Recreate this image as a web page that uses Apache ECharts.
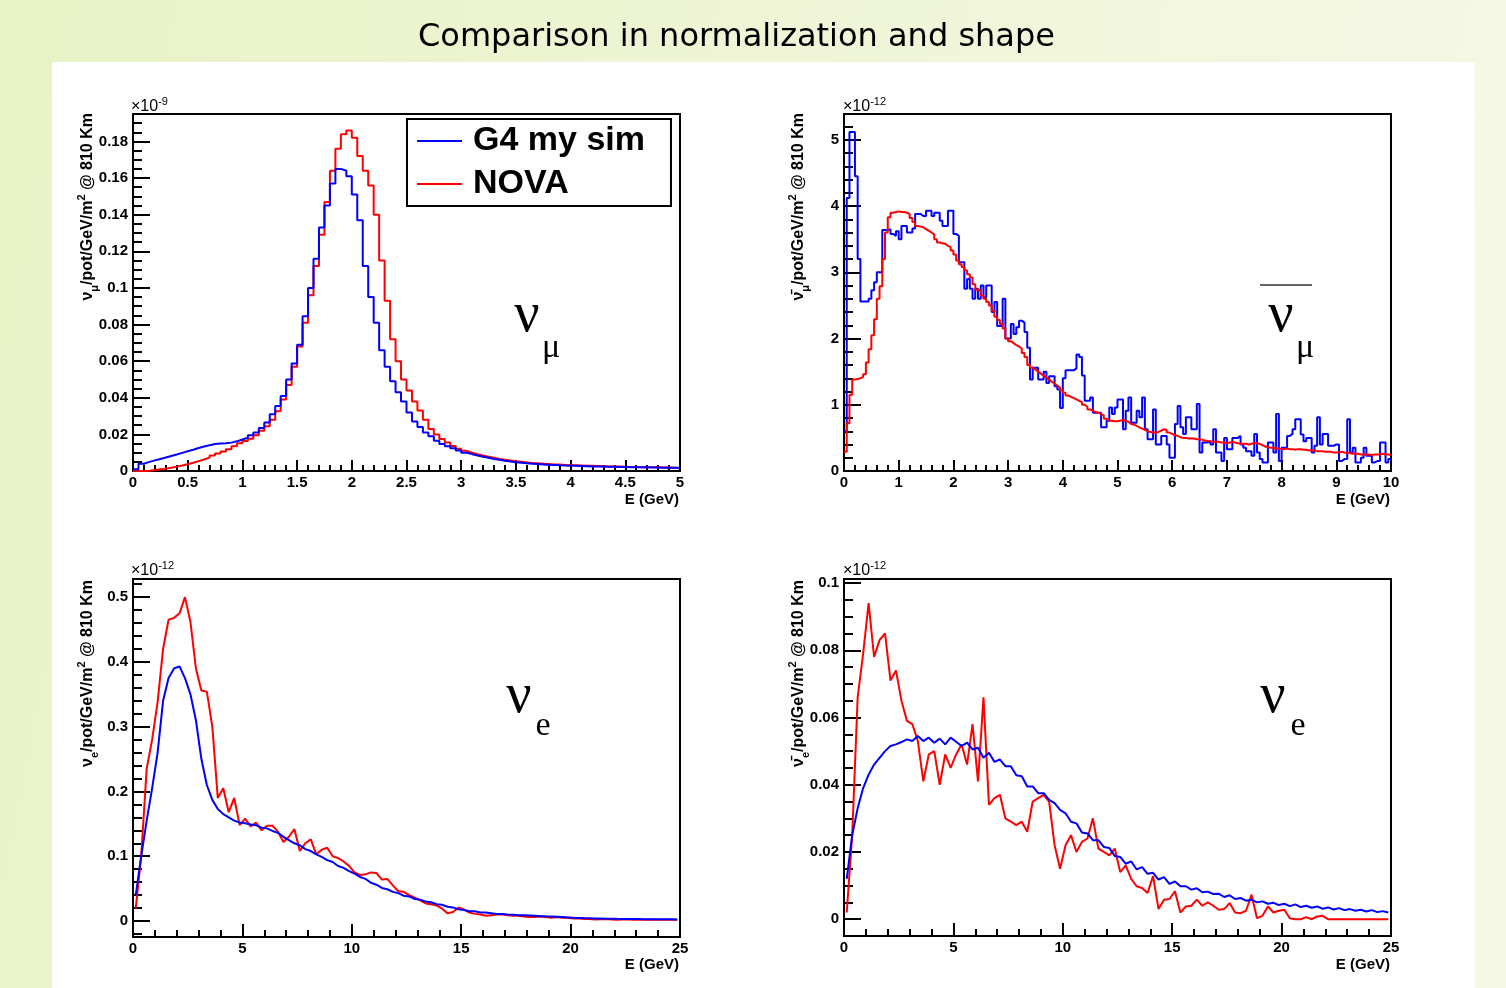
<!DOCTYPE html>
<html>
<head>
<meta charset="utf-8">
<script src="https://cdn.jsdelivr.net/npm/echarts@6.0.0/dist/echarts.min.js"></script>
<style>
  html, body { margin: 0; padding: 0; background: #fff; }
  #main { width: 1506px; height: 988px; }
</style>
</head>
<body>
<div id="main"></div>
<script>
// ---------- data (flux in units of 1e-9 / 1e-12 as on the axes) ----------
// top left: nu_mu, 0-5 GeV, bins of 0.05 GeV
var tlBinWidth = 0.05;
var tlBlue = [
  0.001, 0.004, 0.005, 0.0058, 0.0066, 0.0074, 0.0082, 0.009, 0.0099, 0.0108,
  0.0116, 0.0126, 0.0134, 0.0141, 0.0147, 0.015, 0.0152, 0.0155, 0.0162, 0.0172,
  0.0182, 0.0195, 0.021, 0.0235, 0.0265, 0.031, 0.0355, 0.041, 0.05, 0.0587,
  0.069, 0.0845, 0.1, 0.116, 0.133, 0.145, 0.157, 0.165, 0.164, 0.161,
  0.151, 0.137, 0.112, 0.095, 0.081, 0.066, 0.057, 0.049, 0.043, 0.038,
  0.032, 0.027, 0.024, 0.021, 0.019, 0.0165, 0.0148, 0.0135, 0.0124, 0.0112,
  0.01, 0.0092, 0.0085, 0.0078, 0.0072, 0.0066, 0.0061, 0.0056, 0.0052, 0.0048,
  0.0045, 0.0042, 0.004, 0.0038, 0.0036, 0.0034, 0.0033, 0.0031, 0.003, 0.0029,
  0.0028, 0.0027, 0.0026, 0.0025, 0.0025, 0.0024, 0.0023, 0.0023, 0.0022, 0.0022,
  0.0021, 0.0021, 0.002, 0.002, 0.0019, 0.0019, 0.0018, 0.0018, 0.0018, 0.0017
];
var tlRed = [
  0, 0, 0.0002, 0.0005, 0.0009, 0.0013, 0.0018, 0.0024, 0.003, 0.0037,
  0.0045, 0.0054, 0.0063, 0.0073, 0.0084, 0.0095, 0.0107, 0.0119, 0.0135, 0.0152,
  0.0164, 0.0176, 0.0195, 0.022, 0.0245, 0.028, 0.0327, 0.039, 0.047, 0.057,
  0.068, 0.081, 0.096, 0.112, 0.129, 0.147, 0.164, 0.176, 0.184, 0.186,
  0.182, 0.172, 0.164, 0.156, 0.14, 0.115, 0.093, 0.072, 0.06, 0.05,
  0.044, 0.038, 0.033, 0.028, 0.023, 0.02, 0.0175, 0.0155, 0.0137, 0.0122,
  0.011, 0.01, 0.0092, 0.0085, 0.0078, 0.0072, 0.0066, 0.0061, 0.0057, 0.0053,
  0.005, 0.0047, 0.0044, 0.0042, 0.004, 0.0038, 0.0036, 0.0035, 0.0033, 0.0032,
  0.0031, 0.003, 0.0029, 0.0028, 0.0027, 0.0026, 0.0025, 0.0024, 0.0024, 0.0023,
  0.0022, 0.0022, 0.0021, 0.0021, 0.002, 0.002, 0.0019, 0.0019, 0.0018, 0.0018
];

// top right: anti nu_mu, 0-10 GeV, bins of 0.05 GeV (one row = 1 GeV)
var trBinWidth = 0.05;
var trBlue = [
  0.6, 4.12, 5.12, 5.12, 4.45, 3.2, 2.56, 2.56, 2.56, 2.6, 2.73, 2.85, 3.0, 3.0, 3.64, 3.64, 3.65, 3.58, 3.55, 3.62,
  3.5, 3.7, 3.7, 3.6, 3.6, 3.66, 3.88, 3.88, 3.85, 3.85, 3.93, 3.93, 3.85, 3.9, 3.9, 3.78, 3.7, 3.7, 3.93, 3.93,
  3.58, 3.55, 3.15, 3.15, 2.75, 2.9, 2.75, 2.6, 2.75, 2.6, 2.8, 2.62, 2.8, 2.8, 2.4, 2.55, 2.19, 2.19, 2.6, 2.0,
  2.0, 2.22, 2.07, 2.17, 2.27, 2.24, 2.1, 1.86, 1.38, 1.56, 1.56, 1.38, 1.38, 1.5, 1.33, 1.43, 1.43, 1.28, 1.23, 0.95,
  1.4, 1.52, 1.52, 1.52, 1.55, 1.76, 1.72, 1.44, 1.06, 1.06, 1.11, 0.88, 0.88, 0.88, 0.66, 0.66, 0.76, 0.96, 0.86, 0.96,
  1.08, 1.08, 0.63, 0.91, 1.11, 0.73, 0.73, 0.91, 0.81, 1.11, 0.63, 0.48, 0.48, 0.93, 0.4, 0.4, 0.53, 0.53, 0.4, 0.2,
  0.2, 0.71, 0.98, 0.66, 0.56, 0.81, 0.81, 0.63, 0.63, 1.01, 0.28, 0.43, 0.43, 0.45, 0.4, 0.63, 0.28, 0.28, 0.15, 0.5,
  0.33, 0.33, 0.5, 0.5, 0.53, 0.4, 0.35, 0.3, 0.3, 0.23, 0.56, 0.28, 0.18, 0.13, 0.13, 0.43, 0.43, 0.28, 0.86, 0.15,
  0.35, 0.35, 0.53, 0.56, 0.63, 0.78, 0.78, 0.55, 0.45, 0.5, 0.5, 0.28, 0.38, 0.81, 0.4, 0.56, 0.56, 0.38, 0.38, 0.4,
  0.4, 0.15, 0.18, 0.18, 0.78, 0.28, 0.35, 0.13, 0.13, 0.2, 0.35, 0.23, 0.23, 0.13, 0.15, 0.15, 0.43, 0.43, 0.13, 0.18
];
var trRed = [
  0.29, 0.72, 1.15, 1.38, 1.39, 1.4, 1.42, 1.46, 1.64, 1.84, 2.05, 2.29, 2.6, 2.79, 3.2, 3.6, 3.83, 3.9, 3.91, 3.92,
  3.91, 3.91, 3.9, 3.88, 3.82, 3.76, 3.7, 3.69, 3.68, 3.65, 3.63, 3.6, 3.57, 3.5, 3.45, 3.44, 3.43, 3.4, 3.38, 3.33,
  3.27, 3.18, 3.12, 3.08, 3.03, 2.97, 2.92, 2.82, 2.74, 2.72, 2.65, 2.6, 2.55, 2.5, 2.42, 2.33, 2.28, 2.22, 2.15, 2.0,
  1.96, 1.93, 1.9, 1.88, 1.85, 1.78, 1.72, 1.6, 1.56, 1.53, 1.5, 1.47, 1.44, 1.41, 1.38, 1.35, 1.32, 1.29, 1.26, 1.22,
  1.18, 1.14, 1.12, 1.1, 1.08, 1.06, 1.04, 1.0, 0.97, 0.93, 0.91, 0.89, 0.88, 0.86, 0.84, 0.79, 0.76, 0.76, 0.75, 0.75,
  0.76, 0.77, 0.76, 0.74, 0.71, 0.7, 0.68, 0.66, 0.64, 0.62, 0.6, 0.59, 0.58, 0.58, 0.59, 0.61, 0.63, 0.62, 0.58, 0.56,
  0.54, 0.53, 0.51, 0.5, 0.5, 0.49, 0.49, 0.49, 0.48, 0.48, 0.47, 0.46, 0.45, 0.45, 0.44, 0.44, 0.44, 0.43, 0.43, 0.42,
  0.43, 0.44, 0.43, 0.42, 0.41, 0.41, 0.41, 0.4, 0.41, 0.42, 0.42, 0.41, 0.39, 0.37, 0.36, 0.35, 0.35, 0.34, 0.34, 0.33,
  0.33, 0.34, 0.33, 0.33, 0.32, 0.33, 0.33, 0.32, 0.32, 0.31, 0.31, 0.31, 0.3, 0.3, 0.3, 0.29, 0.29, 0.29, 0.28, 0.28,
  0.28, 0.29, 0.28, 0.27, 0.27, 0.26, 0.26, 0.26, 0.25, 0.25, 0.25, 0.25, 0.24, 0.25, 0.25, 0.25, 0.26, 0.25, 0.25, 0.24
];

// bottom left: nu_e, 0-25 GeV, bins of 0.25 GeV (one row = 5 GeV)
var blBinWidth = 0.25;
var blBlue = [
  0.04, 0.1, 0.155, 0.205, 0.26, 0.34, 0.375, 0.39, 0.393, 0.375, 0.35, 0.31, 0.25, 0.21, 0.187, 0.173, 0.165, 0.16, 0.155, 0.152,
  0.151, 0.149, 0.148, 0.144, 0.143, 0.139, 0.136, 0.13, 0.125, 0.12, 0.117, 0.111, 0.108, 0.103, 0.099, 0.094, 0.091, 0.085, 0.082, 0.077,
  0.073, 0.068, 0.065, 0.059, 0.056, 0.051, 0.049, 0.045, 0.043, 0.039, 0.038, 0.034, 0.033, 0.03, 0.029, 0.026, 0.025, 0.022, 0.021, 0.018,
  0.017, 0.015, 0.015, 0.013, 0.013, 0.012, 0.011, 0.011, 0.01, 0.0095, 0.009, 0.0088, 0.0085, 0.008, 0.0075, 0.0072, 0.007, 0.0065, 0.006, 0.0055,
  0.005, 0.0048, 0.0045, 0.0043, 0.004, 0.0038, 0.0036, 0.0035, 0.0033, 0.0032, 0.003, 0.003, 0.0029, 0.0028, 0.0028, 0.0027, 0.0027, 0.0026, 0.0026, 0.0025
];
var blRed = [
  0.02, 0.1, 0.235, 0.28, 0.338, 0.42, 0.465, 0.468, 0.475, 0.5, 0.462, 0.39, 0.356, 0.354, 0.3, 0.19, 0.205, 0.168, 0.19, 0.148,
  0.158, 0.146, 0.152, 0.14, 0.147, 0.147, 0.138, 0.122, 0.13, 0.142, 0.108, 0.12, 0.126, 0.103, 0.11, 0.113, 0.1, 0.097, 0.092, 0.085,
  0.075, 0.071, 0.072, 0.075, 0.074, 0.064, 0.065, 0.055, 0.046, 0.045, 0.04, 0.036, 0.032, 0.027, 0.026, 0.024, 0.019, 0.012, 0.014, 0.021,
  0.018, 0.013, 0.011, 0.01, 0.008, 0.009, 0.01, 0.01, 0.009, 0.008, 0.008, 0.007, 0.006, 0.006, 0.007, 0.006, 0.005, 0.006, 0.005, 0.005,
  0.004, 0.004, 0.003, 0.003, 0.0025, 0.0026, 0.003, 0.0025, 0.002, 0.0025, 0.0025, 0.002, 0.0022, 0.002, 0.0025, 0.002, 0.002, 0.0018, 0.002, 0.002
];

// bottom right: anti nu_e, 0-25 GeV, bins of 0.25 GeV
var brBinWidth = 0.25;
var brBlue = [
  0.012, 0.025, 0.033, 0.039, 0.043, 0.046, 0.048, 0.05, 0.0515, 0.052, 0.0527, 0.0535, 0.053, 0.0545, 0.053, 0.054, 0.0525, 0.0537, 0.052, 0.054,
  0.0528, 0.0515, 0.0525, 0.0505, 0.051, 0.048, 0.0495, 0.0468, 0.0475, 0.0455, 0.0455, 0.0428, 0.0425, 0.0395, 0.0395, 0.0375, 0.0375, 0.0355, 0.0345, 0.0325,
  0.0315, 0.029, 0.0285, 0.0258, 0.0255, 0.0235, 0.0235, 0.0215, 0.0212, 0.0188, 0.0185, 0.0165, 0.0172, 0.0148, 0.0155, 0.0135, 0.0138, 0.0118, 0.0125, 0.0105,
  0.0112, 0.0098, 0.0098, 0.0088, 0.0092, 0.008, 0.0082, 0.0075, 0.0076, 0.0066, 0.0071, 0.006, 0.0063, 0.0055, 0.0058, 0.005, 0.0053, 0.0046, 0.0049, 0.0042,
  0.0046, 0.0039, 0.0044, 0.0036, 0.004, 0.0034, 0.0038, 0.0031, 0.0035, 0.0029, 0.0033, 0.0027, 0.003, 0.0025, 0.0028, 0.0023, 0.0027, 0.0021, 0.0024, 0.002
];
var brRed = [
  0.002, 0.025, 0.066, 0.079, 0.094, 0.078, 0.083, 0.085, 0.071, 0.074, 0.065, 0.059, 0.058, 0.053, 0.041, 0.049, 0.05, 0.04, 0.049, 0.045,
  0.049, 0.052, 0.046, 0.058, 0.041, 0.066, 0.034, 0.036, 0.037, 0.03, 0.029, 0.028, 0.029, 0.026, 0.035, 0.036, 0.037, 0.035, 0.022, 0.015,
  0.022, 0.025, 0.02, 0.023, 0.024, 0.03, 0.021, 0.02, 0.019, 0.021, 0.014, 0.016, 0.012, 0.0098, 0.0093, 0.0078, 0.0128, 0.003, 0.0058, 0.006,
  0.0083, 0.002, 0.0038, 0.004, 0.0058, 0.004, 0.005, 0.004, 0.0028, 0.003, 0.0048, 0.002, 0.0018, 0.0025, 0.0073, 0.0003, 0.001, 0.0038, 0.002, 0.0025,
  0.0028, 0.0003, 0, 0, 0.0006, 0, 0.0008, 0.001, 0, 0, 0, 0, 0, 0, 0, 0, 0, 0, 0, 0
];

// axis ticks
var tlXTicks = [0, 0.5, 1, 1.5, 2, 2.5, 3, 3.5, 4, 4.5, 5];
var tlYTicks = [0, 0.02, 0.04, 0.06, 0.08, 0.1, 0.12, 0.14, 0.16, 0.18];
var trXTicks = [0, 1, 2, 3, 4, 5, 6, 7, 8, 9, 10];
var trYTicks = [0, 1, 2, 3, 4, 5];
var bXTicks = [0, 5, 10, 15, 20, 25];
var blYTicks = [0, 0.1, 0.2, 0.3, 0.4, 0.5];
var brYTicks = [0, 0.02, 0.04, 0.06, 0.08, 0.1];

var seriesNames = ['G4 my sim', 'NOVA'];

// ---------- helpers ----------
var FONT = 'Liberation Sans';
var SERIF = 'Liberation Serif';

// coarse bins: step outline; fine bins (bottom plots): polyline through bin centres
function histPoints(vals, w, stepped) {
  if (!stepped) {
    return vals.map(function (v, i) { return [(i + 0.5) * w, v]; });
  }
  var pts = vals.map(function (v, i) { return [i * w, v]; });
  pts.push([vals.length * w, vals[vals.length - 1]]);
  return pts;
}
function minorTicks(lo, hi, step) {
  var out = [];
  for (var k = Math.ceil(lo / step - 1e-6); k * step <= hi + 1e-9; k++) {
    out.push(+(k * step).toFixed(6));
  }
  return out;
}
function fmt(v) { return String(+v.toFixed(4)); }

var panels = [
  { grid: { left: 133, top: 114, width: 547, height: 357 }, xMax: 5, xTicks: tlXTicks, xMinor: 0.1,
    yMin: 0, yMax: 0.195, yTicks: tlYTicks, yMinor: 0.005, w: tlBinWidth, blue: tlBlue, red: tlRed,
    stepped: true, blueOnTop: true, xLen: 11, yLen: 17 },
  { grid: { left: 844, top: 114, width: 547, height: 357 }, xMax: 10, xTicks: trXTicks, xMinor: 0.2,
    yMin: 0, yMax: 5.39, yTicks: trYTicks, yMinor: 0.2, w: trBinWidth, blue: trBlue, red: trRed,
    stepped: true, blueOnTop: false, xLen: 11, yLen: 17 },
  { grid: { left: 133, top: 579, width: 547, height: 358 }, xMax: 25, xTicks: bXTicks, xMinor: 1,
    yMin: -0.0247, yMax: 0.528, yTicks: blYTicks, yMinor: 0.02, w: blBinWidth, blue: blBlue, red: blRed,
    stepped: false, blueOnTop: true, xLen: 13, yLen: 17 },
  { grid: { left: 844, top: 579, width: 547, height: 357 }, xMax: 25, xTicks: bXTicks, xMinor: 1,
    yMin: -0.005, yMax: 0.1012, yTicks: brYTicks, yMinor: 0.005, w: brBinWidth, blue: brBlue, red: brRed,
    stepped: false, blueOnTop: true, xLen: 13, yLen: 17 }
];

var labelStyle = { color: '#000', fontFamily: FONT, fontWeight: 'bold', fontSize: 15 };
var grids = [], xAxes = [], yAxes = [], series = [];

panels.forEach(function (p, g) {
  grids.push(Object.assign({ show: true, borderColor: '#000', borderWidth: 2, backgroundColor: 'transparent' }, p.grid));
  // major x
  xAxes.push({
    type: 'value', gridIndex: g, position: 'bottom', offset: 0, min: 0, max: p.xMax,
    axisLine: { onZero: false, lineStyle: { color: '#000', width: 2 } },
    axisTick: { inside: true, length: p.xLen, lineStyle: { color: '#000', width: 2 }, customValues: p.xTicks },
    axisLabel: Object.assign({ customValues: p.xTicks, formatter: fmt, margin: 4 }, labelStyle),
    splitLine: { show: false }
  });
  // minor x, drawn on the same bottom edge
  xAxes.push({
    type: 'value', gridIndex: g, position: 'bottom', offset: 0, min: 0, max: p.xMax,
    axisLine: { show: false, onZero: false },
    axisTick: { inside: true, length: Math.round(p.xLen / 2), lineStyle: { color: '#000', width: 2 },
      customValues: minorTicks(0, p.xMax, p.xMinor) },
    axisLabel: { show: false }, splitLine: { show: false }
  });
  yAxes.push({
    type: 'value', gridIndex: g, position: 'left', offset: 0, min: p.yMin, max: p.yMax,
    axisLine: { onZero: false, lineStyle: { color: '#000', width: 2 } },
    axisTick: { inside: true, length: p.yLen, lineStyle: { color: '#000', width: 2 }, customValues: p.yTicks },
    axisLabel: Object.assign({ customValues: p.yTicks, formatter: fmt, margin: 5 }, labelStyle),
    splitLine: { show: false }
  });
  yAxes.push({
    type: 'value', gridIndex: g, position: 'left', offset: 0, min: p.yMin, max: p.yMax,
    axisLine: { show: false, onZero: false },
    axisTick: { inside: true, length: Math.round(p.yLen / 2), lineStyle: { color: '#000', width: 2 },
      customValues: minorTicks(p.yMin, p.yMax, p.yMinor) },
    axisLabel: { show: false }, splitLine: { show: false }
  });

  var blueS = {
    name: seriesNames[0], type: 'line', step: p.stepped ? 'end' : false, xAxisIndex: 2 * g, yAxisIndex: 2 * g,
    data: histPoints(p.blue, p.w, p.stepped), symbol: 'none', color: '#0000ff',
    lineStyle: { color: '#0000ff', width: 2 }
  };
  var redS = {
    name: seriesNames[1], type: 'line', step: p.stepped ? 'end' : false, xAxisIndex: 2 * g, yAxisIndex: 2 * g,
    data: histPoints(p.red, p.w, p.stepped), symbol: 'none', color: '#ff0000',
    lineStyle: { color: '#ff0000', width: 2 }
  };
  if (p.blueOnTop) { series.push(redS, blueS); } else { series.push(blueS, redS); }
});

// rich styles for axis titles
var richY = {
  b: { fontFamily: FONT, fontWeight: 'bold', fontSize: 16, lineHeight: 24, fill: '#000' },
  s: { fontFamily: FONT, fontWeight: 'bold', fontSize: 11, verticalAlign: 'bottom', fill: '#000' },
  p: { fontFamily: FONT, fontWeight: 'bold', fontSize: 11, verticalAlign: 'top', fill: '#000' }
};
var richExp = {
  b: { fontFamily: FONT, fontSize: 16, lineHeight: 22, fill: '#000' },
  p: { fontFamily: FONT, fontSize: 11, verticalAlign: 'top', fill: '#000' }
};

function yTitle(x, y, nu, sub) {
  return {
    type: 'text', x: x, y: y, rotation: Math.PI / 2,
    style: { text: '{b|' + nu + '}{s|' + sub + '}{b|/pot/GeV/m}{p|2}{b| @ 810 Km}', rich: richY,
      align: 'right', verticalAlign: 'middle' }
  };
}
function expLabel(x, y, e) {
  return { type: 'text', x: x, y: y, style: { text: '{b|\u00d710}{p|' + e + '}', rich: richExp, align: 'left', verticalAlign: 'middle' } };
}
function xTitle(x, y) {
  return { type: 'text', x: x, y: y, style: { text: 'E (GeV)', fontFamily: FONT, fontWeight: 'bold', fontSize: 15,
    fill: '#000', align: 'right', verticalAlign: 'middle' } };
}
function bigText(x, y, t, size) {
  return { type: 'text', x: x, y: y, style: { text: t, fontFamily: SERIF, fontSize: size, fill: '#000',
    align: 'center', verticalAlign: 'middle' } };
}

var graphics = [
  { type: 'rect', z: -10, shape: { x: 0, y: 0, width: 1506, height: 988 },
    style: { fill: new echarts.graphic.LinearGradient(0, 0, 1, 0.3, [
      { offset: 0, color: '#e8f2c6' }, { offset: 1, color: '#f5f8e5' }]) } },
  { type: 'rect', z: -9, shape: { x: 52, y: 62, width: 1423, height: 930 }, style: { fill: '#ffffff' } },
  yTitle(88, 113, '\u03bd', '\u03bc'),
  yTitle(799, 113, '\u03bd\u0304', '\u03bc'),
  yTitle(88, 580, '\u03bd', 'e'),
  yTitle(799, 580, '\u03bd\u0304', 'e'),
  expLabel(131, 107, '-9'),
  expLabel(843, 107, '-12'),
  expLabel(131, 571, '-12'),
  expLabel(843, 571, '-12'),
  xTitle(679, 500), xTitle(1390, 500), xTitle(679, 965), xTitle(1390, 965),
  bigText(527, 316, '\u03bd', 56), bigText(551, 348, '\u03bc', 34),
  bigText(1281, 316, '\u03bd', 56), bigText(1305, 348, '\u03bc', 34),
  { type: 'line', shape: { x1: 1260, y1: 285, x2: 1312, y2: 285 }, style: { stroke: '#333', lineWidth: 1.5 } },
  bigText(519, 697, '\u03bd', 56), bigText(543, 726, 'e', 34),
  bigText(1273, 697, '\u03bd', 56), bigText(1298, 726, 'e', 34)
];

var chartDom = document.getElementById('main');
var myChart = echarts.init(chartDom);
var option = {
  animation: false,
  title: {
    text: 'Comparison in normalization and shape', left: 413, top: 17,
    textStyle: { fontFamily: 'DejaVu Sans', fontWeight: 'normal', fontSize: 32, color: '#000' }
  },
  legend: {
    data: seriesNames, orient: 'vertical', left: 407, top: 119, selectedMode: false,
    icon: 'rect', itemWidth: 45, itemHeight: 2,
    backgroundColor: '#fff', borderColor: '#000', borderWidth: 2, borderRadius: 0,
    padding: [4, 26, 4, 10], itemGap: 7,
    textStyle: { fontFamily: FONT, fontWeight: 'bold', fontSize: 34, lineHeight: 36, color: '#000', padding: [0, 0, 0, 6] }
  },
  grid: grids,
  xAxis: xAxes,
  yAxis: yAxes,
  graphic: graphics,
  series: series
};
myChart.setOption(option);
</script>
</body>
</html>
